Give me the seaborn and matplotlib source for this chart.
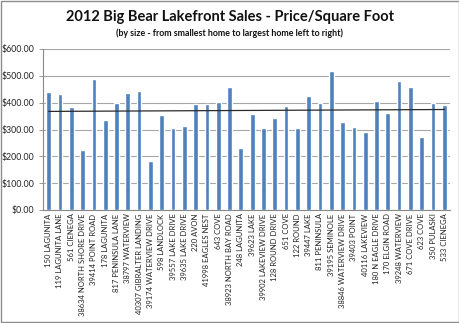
import numpy as np
import pandas as pd
import matplotlib
matplotlib.use("Agg")
import matplotlib.pyplot as plt
import seaborn as sns
from matplotlib.patches import Rectangle

addresses = [
    "150 LAGUNITA", "119 LAGUNITA LANE", "561 CIENEGA", "38634 NORTH SHORE DRIVE",
    "39414 POINT ROAD", "178 LAGUNITA", "817 PENINSULA LANE", "38797 WATERVIEW",
    "40307 GIBRALTER LANDING", "39174 WATERVIEW DRIVE", "598 LANDLOCK", "39557 LAKE DRIVE",
    "39635 LAKE DRIVE", "220 AVON", "41998 EAGLES NEST", "643 COVE",
    "38923 NORTH BAY ROAD", "248 LAGUNITA", "39623 LAKE", "39902 LAKEVIEW DRIVE",
    "128 ROUND DRIVE", "651 COVE", "122 ROUND", "39447 LAKE",
    "811 PENINSULA", "39195 SEMINOLE", "38846 WATERVIEW DRIVE", "39403 POINT",
    "40116 LAKEVIEW", "180 N EAGLE DRIVE", "170 ELGIN ROAD", "39248 WATERVIEW",
    "671 COVE DRIVE", "623 COVE", "350 PULASKI", "533 CIENEGA",
]
price_per_sqft = [
    439, 431, 382, 225, 487, 337, 397, 435,
    445, 184, 355, 307, 314, 394, 394, 401,
    459, 231, 359, 304, 341, 386, 306, 424,
    400, 519, 329, 311, 289, 406, 361, 481,
    459, 272, 400, 391,
]
y_ticks = [0, 100, 200, 300, 400, 500, 600]

df = pd.DataFrame({"address": addresses, "price": price_per_sqft})

sns.set_theme(style="white")
plt.rcParams["font.family"] = ["Lato", "DejaVu Sans"]

fig = plt.figure(figsize=(4.6, 3.23), dpi=100)
ax = fig.add_axes([43 / 460, 1 - 210 / 323, (450 - 43) / 460, (210 - 49) / 323])

sns.barplot(data=df, x="address", y="price", color="#4F81BD", saturation=1,
            width=0.42, ax=ax, zorder=3)

# linear trendline
xs = np.arange(len(price_per_sqft))
m, b = np.polyfit(xs, price_per_sqft, 1)
ax.plot([xs[0], xs[-1]], [m * xs[0] + b, m * xs[-1] + b], color="#2b2b2b", lw=0.9, zorder=4)

ax.set_xlim(-0.5, len(addresses) - 0.5)
ax.set_ylim(0, 600)
ax.set_yticks(y_ticks)
ax.set_yticklabels([f"${v:,.2f}" for v in y_ticks], fontsize=6.3, color="#222222")
ax.yaxis.grid(True, color="#a6a6a6", lw=0.8, zorder=0)
ax.set_axisbelow(True)
ax.set_xlabel("")
ax.set_ylabel("")
ax.set_xticks(xs)
ax.set_xticklabels(addresses, rotation=90, fontsize=5.5, color="#222222")
ax.set_xticks(np.arange(-0.5, len(addresses), 1), minor=True)
ax.tick_params(axis="x", which="major", length=0, pad=2.5)
ax.tick_params(axis="x", which="minor", length=3, color="#888888", width=0.6, direction="out")
ax.tick_params(axis="y", which="major", length=3, color="#888888", width=0.6, pad=3, left=True)
for s in ["top", "right"]:
    ax.spines[s].set_visible(False)
for s in ["left", "bottom"]:
    ax.spines[s].set_color("#888888")
    ax.spines[s].set_linewidth(0.8)

fig.text(0.5, 1 - 17 / 323, "2012 Big Bear Lakefront Sales - Price/Square Foot",
         ha="center", va="center", fontsize=10.5, fontweight="bold", color="#111111")
fig.text(0.5, 1 - 33 / 323, "(by size - from smallest home to largest home left to right)",
         ha="center", va="center", fontsize=6.4, fontweight="bold", color="#111111")

fig.patches.append(Rectangle((0.002, 0.003), 0.995, 0.994, transform=fig.transFigure,
                             fill=False, edgecolor="#8c8c8c", lw=1))

fig.savefig("out.png", dpi=100)
